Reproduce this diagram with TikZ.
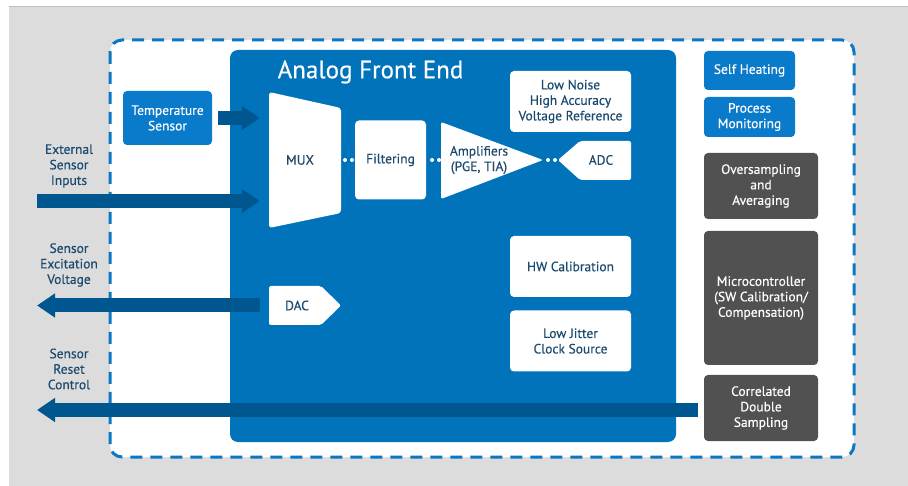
\documentclass[tikz,border=0pt]{standalone}
\usepackage{fontspec}
\setmainfont{PT Sans}[FakeBold=0.35]
\usetikzlibrary{arrows.meta,positioning}
\definecolor{bggray}{HTML}{DCDCDC}
\definecolor{afeblue}{HTML}{0073BB}
\definecolor{boxblue}{HTML}{0A7BCA}
\definecolor{arrowblue}{HTML}{00568E}
\definecolor{darkbox}{HTML}{515151}
\definecolor{txtblue}{HTML}{1C4A6E}
\definecolor{dashblue}{HTML}{0A78C2}

\begin{document}
\begin{tikzpicture}[x=1pt, y=-1pt,
    box/.style={fill=#1, rounded corners=4pt, inner sep=0pt, align=center,
                text=white, font=\fontsize{13.5}{15.5}\selectfont},
    wbox/.style={fill=white, rounded corners=4pt, inner sep=0pt, align=center,
                 text=txtblue, font=\fontsize{13.5}{15.5}\selectfont,
                 minimum width=121pt, minimum height=61pt},
    shapetext/.style={inner sep=0pt, align=center, text=txtblue,
                      font=\fontsize{13.5}{15.5}\selectfont},
    sidetext/.style={align=center, text=txtblue,
                     font=\fontsize{13.5}{15.5}\selectfont},
    bigarrow/.style={-{Triangle[length=18pt,width=23pt]}, line width=14pt,
                     draw=arrowblue}
]
\useasboundingbox (0,0) rectangle (908,486);
\fill[white] (0,0) rectangle (908,486);
\fill[bggray] (9,6) rectangle (908,486);
\draw[black!25, line width=1pt] (9,6.5) -- (908,6.5);
\draw[dashblue, line width=3pt, dash pattern=on 12pt off 8pt,
      rounded corners=12pt, fill=white] (110,40) rectangle (854,457);

\node[fill=afeblue, rounded corners=8pt, minimum width=446pt,
      minimum height=392pt, inner sep=0pt] (afe) at (453,246) {};
\node[text=white, font=\fontsize{25}{28}\selectfont] (title) at (370.5,72)
     {Analog Front End};

\fill[white, rounded corners=3pt] (269,92) -- (341,108) -- (341,213)
     -- (269,228) -- cycle;
\fill[white, rounded corners=2pt] (441,122) -- (543,160) -- (441,199) -- cycle;
\fill[white, rounded corners=2pt] (558,160) -- (580,141) -- (631,141)
     -- (631,180) -- (580,180) -- cycle;
\fill[white, rounded corners=2pt] (269,286) -- (321,286) -- (341,305.5)
     -- (321,325) -- (269,325) -- cycle;
\foreach \x in {345,352,432,439,548,555}
  \fill[white] (\x,160) circle (2pt);

\node[shapetext, minimum width=62pt, minimum height=136pt] (mux) at (300,160) {MUX};
\node[shapetext] (amp) at (479,160) {Amplifiers\\(PGE, TIA)};
\node[shapetext] (adc) at (601,160) {ADC};
\node[shapetext, minimum width=56pt, minimum height=39pt] (dac) at (297,305.5) {DAC};
\node[wbox, minimum width=71pt, minimum height=79pt] (filt) at (390.5,160) {Filtering};
\node[wbox] (vref) at (570.5,101.5) {Low Noise\\High Accuracy\\Voltage Reference};
\node[wbox] (hwcal) at (570.5,266.5) {HW Calibration};
\node[wbox] (clk) at (570.5,341) {Low Jitter\\Clock Source};

\node[box=boxblue, minimum width=89pt, minimum height=54pt] (temp) at (167.5,118)
     {Temperature\\Sensor};
\node[box=boxblue, minimum width=91pt, minimum height=39pt] (heat) at (749.5,70.5)
     {Self Heating};
\node[box=boxblue, minimum width=91pt, minimum height=40pt] (proc) at (749.5,117)
     {Process\\Monitoring};
\node[box=darkbox, minimum width=114pt, minimum height=66pt] (ovs) at (761,186)
     {Oversampling\\and\\Averaging};
\node[box=darkbox, minimum width=114pt, minimum height=134pt] (mcu) at (761,298)
     {Microcontroller\\(SW Calibration/\\Compensation)};
\node[box=darkbox, minimum width=114pt, minimum height=66pt] (cds) at (761,408)
     {Correlated\\Double\\Sampling};

\node[sidetext] (extlbl) at (69,166) {External\\Sensor\\Inputs};
\node[sidetext] (exclbl) at (69,265) {Sensor\\Excitation\\Voltage};
\node[sidetext] (rstlbl) at (69,369) {Sensor\\Reset\\Control};

\coordinate (extin) at (37,201);
\coordinate (excout) at (37,305.5);
\coordinate (rstout) at (37,410);
\coordinate (muxtemp) at (temp.east -| mux.west);
\coordinate (muxext) at (extin -| mux.west);
\coordinate (cdsrst) at (rstout -| cds.west);

\draw[bigarrow] ([xshift=6]temp.east) -- ([xshift=-9]muxtemp);
\draw[bigarrow] (extin) -- ([xshift=-9]muxext);
\draw[bigarrow] ([xshift=-9]dac.west) -- (excout);
\draw[bigarrow] ([xshift=-6]cdsrst) -- (rstout);
\end{tikzpicture}
\end{document}
